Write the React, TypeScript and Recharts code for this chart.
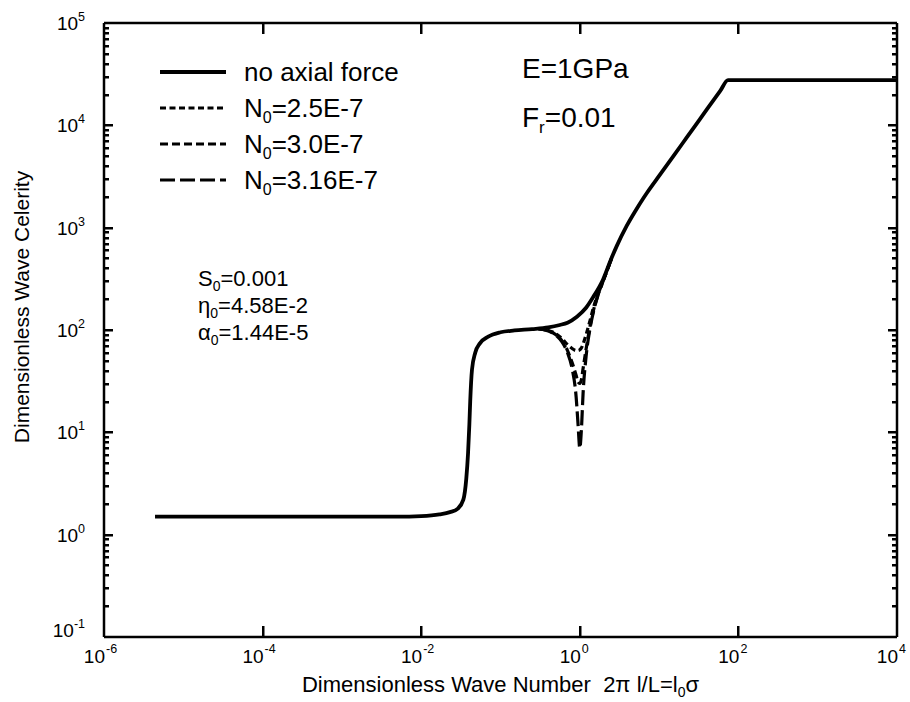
import React from "react";
import { LineChart, Line, XAxis, YAxis, Legend, Label } from "recharts";

// dimensionless wave number (x) and celerity (y)
const noForceX = [
  4.4e-6, 1e-4, 1e-3, 0.005, 0.01, 0.017, 0.023, 0.029, 0.034, 0.037, 0.039,
  0.0405, 0.0415, 0.0437, 0.048, 0.055, 0.07, 0.1, 0.15, 0.25, 0.4, 0.56, 0.7,
  0.92, 1.2, 1.47, 1.96, 2.5, 2.92, 3.9, 5, 6.27, 7.08, 10, 20, 27, 40, 59, 74, 1e4,
];
const noForceY = [
  1.5, 1.5, 1.5, 1.5, 1.52, 1.58, 1.66, 1.8, 2.2, 3.5, 6.3, 12, 20, 41, 60, 74,
  86, 95, 99, 102, 106, 112, 118, 135, 165, 209, 310, 500, 660, 1040, 1450,
  1920, 2208, 3204, 6760, 9340, 14290, 21700, 27700, 27700,
];

const dipX = [0.3, 0.4, 0.5, 0.6, 0.7, 0.8, 0.9, 0.95, 1.0, 1.05, 1.1, 1.2, 1.35, 1.5, 1.7, 1.96, 2.5];
const n25Y = [103, 99, 92, 82, 72, 66, 63, 63, 64, 67, 73, 90, 125, 170, 225, 300, 495];
const n30Y = [103, 98, 90, 78, 63, 48, 36, 31, 30, 33, 42, 65, 110, 160, 222, 298, 495];
const n316Y = [103, 98, 89, 76, 60, 42, 22, 12, 7, 11, 24, 55, 105, 155, 220, 298, 495];

const X_MIN = 1e-6;
const X_MAX = 1e4;
const Y_MIN = 0.1;
const Y_MAX = 1e5;

const xTicks = [1e-6, 1e-4, 1e-2, 1, 1e2, 1e4];
const yTicks = [0.1, 1, 10, 100, 1e3, 1e4, 1e5];
const yMinorTicks: number[] = [];
yTicks.slice(0, -1).forEach((d) => {
  for (let m = 2; m <= 9; m++) yMinorTicks.push(m * d);
});

const toPoints = (xs: number[], ys: number[]) => xs.map((x, i) => ({ x, y: ys[i] }));

const series = [
  { name: "no axial force", sub: "", data: toPoints(noForceX, noForceY), dash: undefined, width: 3.8 },
  { name: "N", sub: "=2.5E-7", data: toPoints(dipX, n25Y), dash: "6 3.5", width: 3.2 },
  { name: "N", sub: "=3.0E-7", data: toPoints(dipX, n30Y), dash: "8 4", width: 3.2 },
  { name: "N", sub: "=3.16E-7", data: toPoints(dipX, n316Y), dash: "15 5", width: 3.2 },
];

const FONT = "'Liberation Sans', Arial, Helvetica, sans-serif";
const W = 910;
const H = 702;
// plot box, set by the margins and axis sizes below
const PLOT = { left: 104, right: W - 13, top: 23, bottom: H - 65 };

const expOf = (v: number) => Math.round(Math.log10(v));

const XTick = (props: any) => {
  const x = Number(props.x);
  const y = Number(props.y);
  return (
    <g>
      <text x={x + 1} y={y + 26} textAnchor="end" fontFamily={FONT} fontSize={19} fill="#000">10</text>
      <text x={x + 2} y={y + 16} textAnchor="start" fontFamily={FONT} fontSize={12.5} fill="#000">
        {expOf(props.payload.value)}
      </text>
    </g>
  );
};

const YTick = (props: any) => {
  const x = Number(props.x);
  const y = Number(props.y);
  const v = props.payload.value;
  const base = v === 0.1 ? y : y + 7;
  return (
    <text x={x - 19} y={base} textAnchor="end" fontFamily={FONT} fontSize={19} fill="#000">
      10<tspan dy={-9} fontSize={12.5}>{expOf(v)}</tspan>
    </text>
  );
};

const LegendBox = () => (
  <svg width={320} height={150} style={{ fontFamily: FONT }}>
    {series.map((s, i) => {
      const cy = 17 + i * 36;
      return (
        <g key={i}>
          <line x1={5} x2={71} y1={cy} y2={cy} stroke="#000" strokeWidth={s.width} strokeDasharray={s.dash} />
          <text x={89} y={cy + 9} fontSize={26} fill="#000">
            {s.name}
            {s.sub && (
              <>
                <tspan dy={6} fontSize={16}>0</tspan>
                <tspan dy={-6}>{s.sub}</tspan>
              </>
            )}
          </text>
        </g>
      );
    })}
  </svg>
);

const XTitle = (props: any) => {
  const vb = props.viewBox;
  return (
    <text x={vb.x + vb.width / 2} y={vb.y + 55} textAnchor="middle" fontFamily={FONT} fontSize={22} fill="#000">
      {"Dimensionless Wave Number\u00a0\u00a02π l/L=l"}
      <tspan dy={5} fontSize={14}>0</tspan>
      <tspan dy={-5}>σ</tspan>
    </text>
  );
};

const YTitle = (props: any) => {
  const vb = props.viewBox;
  const cx = vb.x + 21;
  const cy = vb.y + vb.height / 2 - 23;
  return (
    <text
      x={cx}
      y={cy}
      transform={`rotate(-90, ${cx}, ${cy})`}
      textAnchor="middle"
      dominantBaseline="central"
      fontFamily={FONT}
      fontSize={21}
      fill="#000"
    >
      Dimensionless Wave Celerity
    </text>
  );
};

// inward frame ticks (decoration only), drawn as small filled bars
const logPos = (v: number, lo: number, hi: number, a: number, b: number) =>
  a + ((Math.log10(v) - Math.log10(lo)) / (Math.log10(hi) - Math.log10(lo))) * (b - a);

const FrameTicks = () => {
  const bars: React.ReactNode[] = [];
  xTicks.slice(1, -1).forEach((v, i) => {
    const x = Math.round(logPos(v, X_MIN, X_MAX, PLOT.left, PLOT.right));
    bars.push(<rect key={`b${i}`} x={x - 1} y={PLOT.bottom - 11} width={2.5} height={11} fill="#000" />);
    bars.push(<rect key={`t${i}`} x={x - 1} y={PLOT.top} width={2.5} height={11} fill="#000" />);
  });
  const yMarks = [
    ...yTicks.slice(1, -1).map((v) => ({ v, len: 9 })),
    ...yMinorTicks.map((v) => ({ v, len: 5 })),
  ];
  yMarks.forEach(({ v, len }, i) => {
    const y = Math.round(logPos(v, Y_MIN, Y_MAX, PLOT.bottom, PLOT.top));
    bars.push(<rect key={`l${i}`} x={PLOT.left} y={y - 1} width={len} height={2.5} fill="#000" />);
    bars.push(<rect key={`r${i}`} x={PLOT.right - len} y={y - 1} width={len} height={2.5} fill="#000" />);
  });
  return <g>{bars}</g>;
};

const Notes = () => (
  <svg width={W} height={H} style={{ position: "absolute", left: 0, top: 0, pointerEvents: "none" }}>
    <FrameTicks />
    <g fontFamily={FONT} fill="#000">
      <text x={522} y={78} fontSize={28}>E=1GPa</text>
      <text x={522} y={127} fontSize={28}>
        F<tspan dy={6} fontSize={17}>r</tspan><tspan dy={-6}>=0.01</tspan>
      </text>
      <text x={198} y={286} fontSize={22}>
        S<tspan dy={5} fontSize={14}>0</tspan><tspan dy={-5}>=0.001</tspan>
      </text>
      <text x={198} y={313} fontSize={22}>
        η<tspan dy={5} fontSize={14}>0</tspan><tspan dy={-5}>=4.58E-2</tspan>
      </text>
      <text x={198} y={340} fontSize={22}>
        α<tspan dy={5} fontSize={14}>0</tspan><tspan dy={-5}>=1.44E-5</tspan>
      </text>
    </g>
  </svg>
);

export default function App() {
  const axisLine = { stroke: "#000", strokeWidth: 2.5 };
  return (
    <div style={{ position: "absolute", left: 0, top: 0, width: W, height: H, background: "#fff" }}>
      <LineChart width={W} height={H} margin={{ top: 0, right: 0, left: 0, bottom: 0 }}>
        <XAxis
          type="number"
          dataKey="x"
          scale="log"
          domain={[X_MIN, X_MAX]}
          allowDataOverflow
          ticks={xTicks}
          interval={0}
          height={H - PLOT.bottom}
          tick={<XTick />}
          tickLine={false}
          tickSize={0}
          tickMargin={0}
          axisLine={axisLine}
        >
          <Label content={<XTitle />} />
        </XAxis>
        <XAxis
          xAxisId="top"
          orientation="top"
          type="number"
          scale="log"
          domain={[X_MIN, X_MAX]}
          allowDataOverflow
          height={PLOT.top}
          tick={false}
          tickLine={false}
          axisLine={axisLine}
        />
        <YAxis
          type="number"
          dataKey="y"
          scale="log"
          domain={[Y_MIN, Y_MAX]}
          allowDataOverflow
          ticks={yTicks}
          interval={0}
          width={PLOT.left}
          tick={<YTick />}
          tickLine={false}
          tickSize={0}
          tickMargin={0}
          axisLine={axisLine}
        >
          <Label content={<YTitle />} />
        </YAxis>
        <YAxis
          yAxisId="right"
          orientation="right"
          type="number"
          scale="log"
          domain={[Y_MIN, Y_MAX]}
          allowDataOverflow
          width={W - PLOT.right}
          tick={false}
          tickLine={false}
          axisLine={axisLine}
        />

        <Legend
          layout="vertical"
          align="center"
          verticalAlign="middle"
          wrapperStyle={{ top: 55, left: 155, width: 320 }}
          content={<LegendBox />}
        />

        {series.map((s, i) => (
          <Line
            key={i}
            data={s.data}
            dataKey="y"
            name={s.name + s.sub}
            type="monotone"
            stroke="#000"
            strokeWidth={s.width}
            strokeDasharray={s.dash}
            dot={false}
            activeDot={false}
            isAnimationActive={false}
          />
        ))}
      </LineChart>
      <Notes />
    </div>
  );
}
